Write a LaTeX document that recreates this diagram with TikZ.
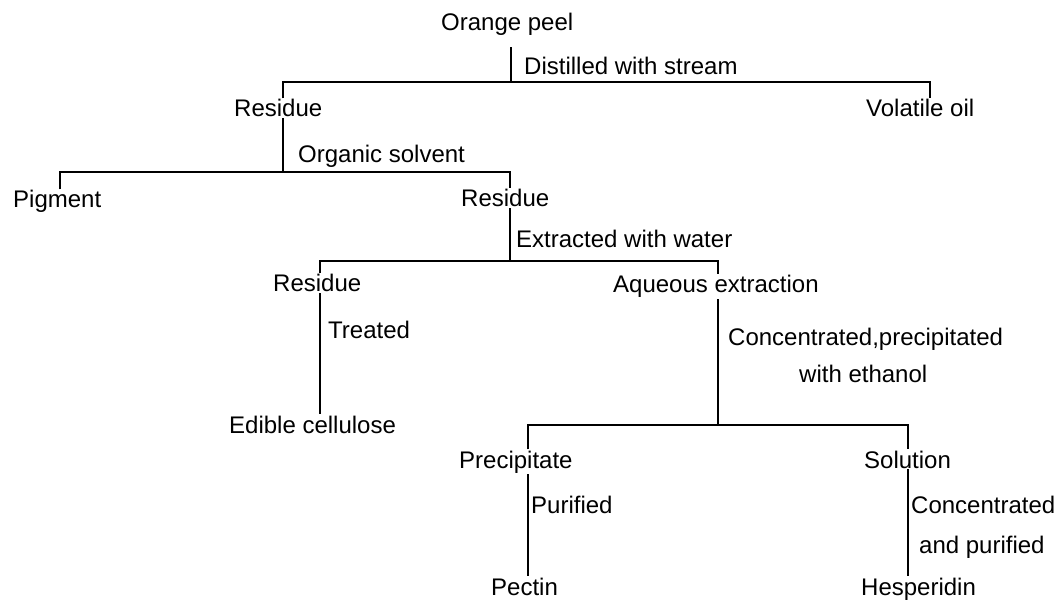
\documentclass[tikz,border=0pt]{standalone}
\usepackage{fontspec}
\setmainfont{Liberation Sans}
\usetikzlibrary{positioning}

\begin{document}
\begin{tikzpicture}[
    x=1pt, y=-1pt,
    every node/.style={font=\fontsize{24}{28}\selectfont, inner sep=1pt, anchor=base west},
    item/.style={text=black},
    process/.style={text=black},
    branch/.style={line width=1.3pt, draw=black}
]
\useasboundingbox (0,0) rectangle (1057,601);

% products
\node[item] (peel) at (440,31) {Orange peel};
\node[item] (res1) at (233,117) {Residue};
\node[item] (oil) at (865,117) {Volatile oil};
\node[item] (pig) at (12,208) {Pigment};
\node[item] (res2) at (460,207) {Residue};
\node[item] (res3) at (272,292) {Residue};
\node[item] (aq) at (612,293) {Aqueous extraction};
\node[item] (cell) at (228,433) {Edible cellulose};
\node[item] (prec) at (458,468) {Precipitate};
\node[item] (sol) at (863,468) {Solution};
\node[item] (pectin) at (490,595) {Pectin};
\node[item] (hesp) at (860,595) {Hesperidin};

% treatments
\node[process] (distil) at (523,75) {Distilled with stream};
\node[process] (organic) at (297,163) {Organic solvent};
\node[process] (water) at (515,248) {Extracted with water};
\node[process] (treat) at (327,338) {Treated};
\node[process] (conc) at (727,345) {Concentrated,precipitated};
\node[process] (ethanol) at (798,382) {with ethanol};
\node[process] (puri) at (530,513) {Purified};
\node[process] (conc2) at (910,513) {Concentrated};
\node[process] (andpuri) at (918,553) {and purified};

% bars
\coordinate (b1l) at (283,82);
\coordinate (b1m) at (511,82);
\coordinate (b1r) at (930,82);
\coordinate (b2l) at (60,172);
\coordinate (b2m) at (283,172);
\coordinate (b2r) at (510,172);
\coordinate (b3l) at (320,261);
\coordinate (b3m) at (510,261);
\coordinate (b3r) at (718,261);
\coordinate (b4l) at (528,425);
\coordinate (b4m) at (718,425);
\coordinate (b4r) at (908,425);

\draw[branch] ([yshift=-10pt]peel.south -| b1m) -- (b1m);
\draw[branch] (res1.north -| b1l) |- (b1r) -- (oil.north -| b1r);
\draw[branch] (res1.south -| b2m) -- (b2m);
\draw[branch] (pig.north -| b2l) |- (b2r) -- (res2.north -| b2r);
\draw[branch] (res2.south -| b3m) -- (b3m);
\draw[branch] (res3.north -| b3l) |- (b3r) -- (aq.north -| b3r);
\draw[branch] (res3.south -| b3l) -- (cell.north -| b3l);
\draw[branch] (aq.south -| b4m) -- (b4m);
\draw[branch] (prec.north -| b4l) |- (b4r) -- (sol.north -| b4r);
\draw[branch] (prec.south -| b4l) -- (pectin.north -| b4l);
\draw[branch] (sol.south -| b4r) -- (hesp.north -| b4r);

\end{tikzpicture}
\end{document}
